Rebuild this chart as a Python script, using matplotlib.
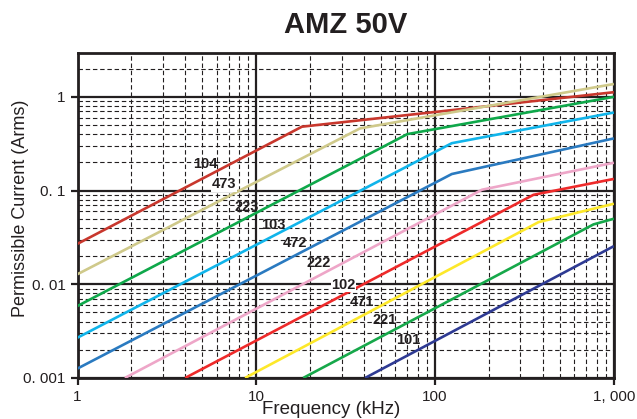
import matplotlib
matplotlib.use("Agg")
import matplotlib.pyplot as plt
from matplotlib.ticker import FixedLocator, NullFormatter

plt.rcParams['font.family'] = ['Liberation Sans', 'DejaVu Sans']

# capacitance codes and their (frequency kHz, current Arms) break points
codes = ['104', '473', '223', '103', '472', '222', '102', '471', '221', '101']
freq = [
    [1, 18, 1000],
    [1, 38, 1000],
    [1, 70, 1000],
    [1, 124, 1000],
    [1, 124, 1000],
    [1.84, 183, 1000],
    [4.0, 355, 1000],
    [8.65, 379, 1000],
    [18.3, 769, 1000],
    [40.6, 1000],
]
current = [
    [0.027, 0.48, 1.12],
    [0.0128, 0.46, 1.37],
    [0.00586, 0.40, 1.0],
    [0.00269, 0.32, 0.68],
    [0.00126, 0.15, 0.36],
    [0.001, 0.102, 0.198],
    [0.001, 0.090, 0.133],
    [0.001, 0.046, 0.0723],
    [0.001, 0.0435, 0.050],
    [0.001, 0.0255],
]
colors = ['#c8372d', '#cfc98a', '#0fa84a', '#10b4ea', '#2a7ac0',
          '#eea6c8', '#ee2a2a', '#fde82a', '#16a84a', '#2e3a93']
# label anchor points (kHz, A at text baseline)
label_f = [5.17, 6.6, 8.88, 12.4, 16.5, 22.2, 30.6, 39.1, 51.9, 70.6]
label_i = [0.172, 0.1055, 0.0605, 0.0388, 0.0250, 0.0153, 0.00895, 0.00592, 0.00373, 0.00230]
boxed = ['473', '102']

xticks = [1, 10, 100, 1000]
xtick_labels = ['1', '10', '100', '1, 000']
yticks = [0.001, 0.01, 0.1, 1]
ytick_labels = ['0. 001', '0. 01', '0. 1', '1']

fig = plt.figure(figsize=(6.37, 4.19), dpi=100)
ax = fig.add_axes([0.1217, 0.098, 0.842, 0.776])
ax.set_xscale('log')
ax.set_yscale('log')
ax.set_xlim(1, 1000)
ax.set_ylim(0.001, 2.95)

for f, c, col in zip(freq, current, colors):
    ax.plot(f, c, color=col, lw=1.9, solid_capstyle='butt', zorder=3)

for code, lf, li in zip(codes, label_f, label_i):
    bbox = None
    if code in boxed:
        bbox = dict(facecolor='white', edgecolor='none', pad=0.3)
    ax.text(lf, li, code, fontsize=10.5, fontweight='bold', color='#231f20',
            ha='center', va='baseline', zorder=4, bbox=bbox)

ax.xaxis.set_major_locator(FixedLocator(xticks))
ax.set_xticklabels(xtick_labels)
ax.yaxis.set_major_locator(FixedLocator(yticks))
ax.set_yticklabels(ytick_labels)
ax.xaxis.set_minor_formatter(NullFormatter())
ax.yaxis.set_minor_formatter(NullFormatter())

ax.grid(which='major', color='#231f20', lw=1.6, ls='-', zorder=1)
ax.grid(which='minor', color='#231f20', lw=0.8, ls=(0, (4, 2.5)), zorder=1)
ax.tick_params(which='major', direction='out', length=5, width=1.6,
               labelsize=11, color='#231f20', labelcolor='#231f20')
ax.tick_params(which='minor', length=0)
for s in ax.spines.values():
    s.set_linewidth(2)
    s.set_color('#231f20')

ax.set_title('AMZ 50V', fontsize=21, fontweight='bold', color='#231f20', pad=14)
ax.set_xlabel('Frequency (kHz)', fontsize=13.5, color='#231f20')
ax.xaxis.set_label_coords(0.4725, -0.071)
ax.set_ylabel('Permissible Current (Arms)', fontsize=13, color='#231f20')
ax.yaxis.set_label_coords(-0.09, 0.5226)

fig.savefig('out.png', dpi=100)
